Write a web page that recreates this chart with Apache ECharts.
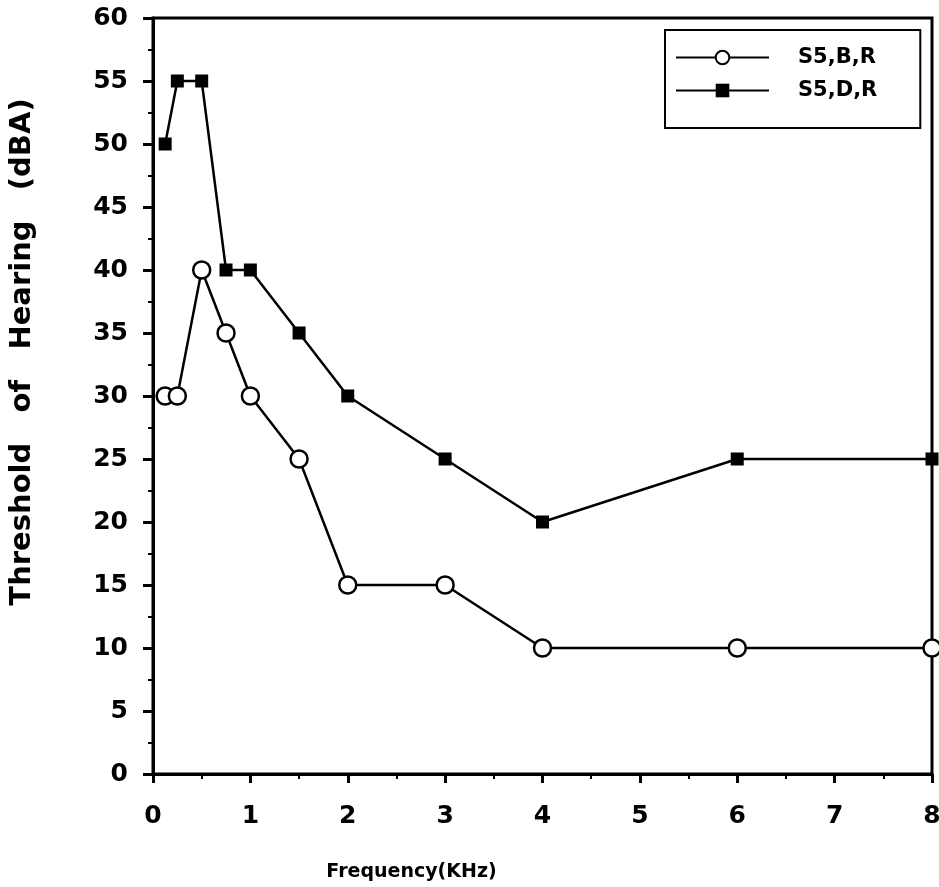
<!DOCTYPE html>
<html>
<head>
<meta charset="utf-8">
<script src="https://cdn.jsdelivr.net/npm/echarts@6/dist/echarts.min.js"></script>
<style>
  html, body { margin: 0; padding: 0; background: #fff; }
  #visualisation { width: 939px; height: 887px; }
</style>
</head>
<body>
<div id="visualisation"></div>
<script>
// Frequenties (kHz) en drempelwaarden (dBA) zoals.
const frequencies = [0.125, 0.25, 0.5, 0.75, 1, 1.5, 2, 3, 4, 6, 8];
const thresholdB = [30, 30, 40, 35, 30, 25, 15, 15, 10, 10, 10];
const thresholdD = [50, 55, 55, 40, 40, 35, 30, 25, 20, 25, 25];
const xTicks = [0, 1, 2, 3, 4, 5, 6, 7, 8];
const yTicks = [0, 5, 10, 15, 20, 25, 30, 35, 40, 45, 50, 55, 60];

function drawVisualisation() {
    let visualisation = echarts.init(document.getElementById('visualisation'));

    const font = 'DejaVu Sans, Liberation Sans, sans-serif';
    const pairs = (ys) => frequencies.map((f, i) => [f, ys[i]]);

    let option = {
        animation: false,
        backgroundColor: '#fff',
        grid: {
            left: 153, right: 7, top: 18, bottom: 113,
            outerBoundsMode: 'none',
            show: true, borderColor: '#000', borderWidth: 3
        },
        legend: {
            orient: 'vertical',
            left: 665, top: 30,
            padding: [17, 43, 27, 10],
            itemGap: 12,
            itemWidth: 93, itemHeight: 17,
            borderColor: '#000', borderWidth: 2,
            textStyle: { fontFamily: font, fontWeight: 'bold', fontSize: 21, color: '#000', padding: [0, 0, 0, 24] },
            data: ['S5,B,R', 'S5,D,R']
        },
        xAxis: {
            type: 'value',
            min: xTicks[0], max: xTicks[xTicks.length - 1], interval: 1,
            name: 'Frequency(KHz)', nameLocation: 'middle', nameGap: 89,
            // het asnaam-label staat links van het midden
            nameTextStyle: { fontFamily: font, fontWeight: 'bold', fontSize: 19, color: '#000', padding: [0, 262, 0, 0] },
            axisLine: { show: true, lineStyle: { color: '#000', width: 3 } },
            axisTick: { show: true, length: 9, lineStyle: { color: '#000', width: 3 } },
            minorTick: { show: true, splitNumber: 2, length: 5, lineStyle: { color: '#000', width: 2 } },
            axisLabel: { margin: 30, fontFamily: font, fontWeight: 'bold', fontSize: 25, color: '#000' },
            splitLine: { show: false }
        },
        yAxis: {
            type: 'value',
            min: yTicks[0], max: yTicks[yTicks.length - 1], interval: 5,
            name: 'Threshold   of   Hearing   (dBA)', nameLocation: 'middle', nameGap: 116,
            nameTextStyle: { fontFamily: font, fontWeight: 'bold', fontSize: 29, color: '#000', padding: [0, 0, 0, 88] },
            axisLine: { show: true, lineStyle: { color: '#000', width: 3 } },
            axisTick: { show: true, length: 10, lineStyle: { color: '#000', width: 3 } },
            minorTick: { show: true, splitNumber: 2, length: 5, lineStyle: { color: '#000', width: 2 } },
            axisLabel: { margin: 25, fontFamily: font, fontWeight: 'bold', fontSize: 25, color: '#000' },
            splitLine: { show: false }
        },
        series: [
            {
                name: 'S5,B,R',
                type: 'line',
                data: pairs(thresholdB),
                symbol: 'circle', symbolSize: 17,
                lineStyle: { color: '#000', width: 2.5 },
                itemStyle: { color: '#fff', borderColor: '#000', borderWidth: 2.5 },
                z: 3
            },
            {
                name: 'S5,D,R',
                type: 'line',
                data: pairs(thresholdD),
                symbol: 'rect', symbolSize: 13,
                lineStyle: { color: '#000', width: 2.5 },
                itemStyle: { color: '#000', borderColor: '#000', borderWidth: 0 },
                z: 2
            }
        ]
    };

    visualisation.setOption(option);
}

window.addEventListener('load', drawVisualisation);
</script>
</body>
</html>
